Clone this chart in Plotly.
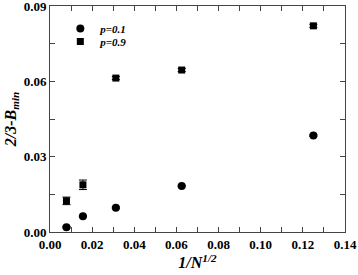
import plotly.graph_objects as go

x_vals = [0.0078125, 0.015625, 0.03125, 0.0625, 0.125]
p01_y = [0.0019, 0.0063, 0.0097, 0.0183, 0.0384]
p01_err = [0.0003, 0.0003, 0.0003, 0.0003, 0.0003]
p09_y = [0.0124, 0.0188, 0.0613, 0.0645, 0.0821]
p09_err = [0.0015, 0.0019, 0.0006, 0.0006, 0.0006]
x_ticks = [0.00, 0.02, 0.04, 0.06, 0.08, 0.10, 0.12, 0.14]
y_ticks = [0.00, 0.03, 0.06, 0.09]

font_family = "Liberation Serif"

fig = go.Figure()
fig.add_trace(go.Scatter(
    x=x_vals, y=p01_y, mode="markers", name="<b><i>p=0.1</i></b>",
    marker=dict(symbol="circle", size=8, color="black"),
    error_y=dict(type="data", array=p01_err, color="black", thickness=1, width=4),
    legend="legend",
))
fig.add_trace(go.Scatter(
    x=x_vals, y=p09_y, mode="markers", name="<b><i>p=0.9</i></b>",
    marker=dict(symbol="square", size=7, color="black"),
    error_y=dict(type="data", array=p09_err, color="black", thickness=1, width=4),
    legend="legend2",
))

axis_common = dict(
    showgrid=False, zeroline=False, showline=True, linecolor="#444", linewidth=1,
    ticks="inside", tickcolor="#444", ticklen=5, mirror="ticks",
    tickfont=dict(family=font_family, size=13, color="black", weight="bold"),
    automargin=False, ticklabeloverflow="allow",
)
fig.update_xaxes(
    range=[0, 0.14], tickvals=x_ticks, ticktext=[f"{v:.2f}" for v in x_ticks],
    minor=dict(dtick=0.01, ticks="inside", ticklen=5, tickcolor="#444"),
    title=dict(text="<b><i>1/N<sup>1/2</sup></i></b>", font=dict(family=font_family, size=16, color="black"), standoff=2),
    **axis_common,
)
fig.update_yaxes(
    range=[0, 0.09], tickvals=y_ticks, ticktext=[f"{v:.2f}" for v in y_ticks],
    minor=dict(dtick=0.015, ticks="inside", ticklen=5, tickcolor="#444"),
    title=dict(text="<b><i>2/3-B<sub>min</sub></i></b>", font=dict(family=font_family, size=16, color="black"), standoff=3),
    **axis_common,
)
legend_style = dict(xanchor="left", yanchor="top", bgcolor="rgba(0,0,0,0)",
                    font=dict(family=font_family, size=11, color="black"), itemwidth=30)
fig.update_layout(
    width=358, height=275,
    margin=dict(l=50, r=13, t=6, b=43),
    plot_bgcolor="white", paper_bgcolor="white",
    font=dict(family=font_family, color="black"),
    showlegend=True,
    legend=dict(x=0.035, y=0.965, **legend_style),
    legend2=dict(x=0.035, y=0.907, **legend_style),
)
fig.write_html("out.html", config={"displayModeBar": False},
               post_script="document.body.style.margin='0px';document.body.style.overflow='hidden';")
